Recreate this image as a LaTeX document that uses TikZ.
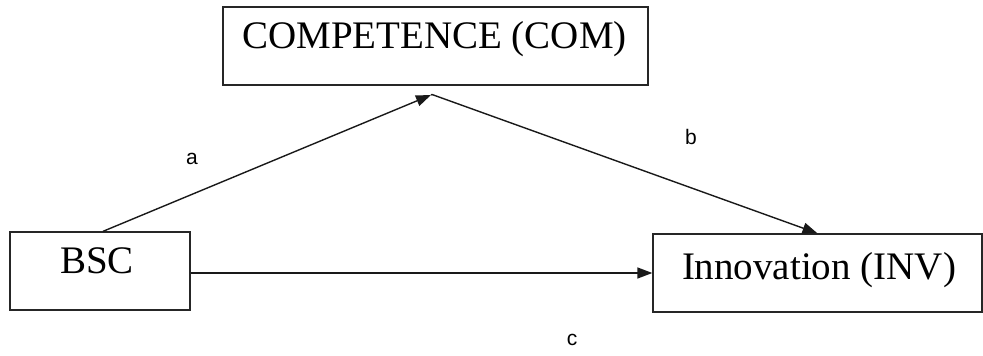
\documentclass[tikz,border=0pt]{standalone}
\usepackage{fontspec}
\setmainfont{Liberation Serif}
\newfontfamily\labelfont{Liberation Sans}
\usetikzlibrary{arrows.meta,calc}

\tikzset{
  varbox/.style={draw=black!85, line width=1.3pt, minimum width=#1, minimum height=78pt, inner sep=0pt},
  boxtext/.style={anchor=base, inner sep=0pt, font=\fontsize{39}{41}\selectfont},
  pathlabel/.style={inner sep=0pt, font=\labelfont\fontsize{21}{23}\selectfont},
  link/.style={line width=1.4pt, draw=black!90, -{Triangle[length=15pt,width=11pt]}}
}

\begin{document}
\begin{tikzpicture}[x=1pt,y=1pt]
  \useasboundingbox (0,0) rectangle (983,356);

  % variable boxes
  \node[varbox=425pt] (com) at (435.5,310) {};
  \node[varbox=180pt] (bsc) at (100,85) {};
  \node[varbox=329pt] (inv) at (817.5,83) {};

  % box captions
  \node[boxtext] (comtext) at (434.5,307.5) {COMPETENCE (COM)};
  \node[boxtext] (bsctext) at (97,82) {BSC};
  \node[boxtext] (invtext) at (819,76) {Innovation (INV)};

  % meeting point of the indirect path below the mediator
  \coordinate (apex) at (431,261);

  % paths
  \draw[link] ($(bsc.north)+(3,0)$) -- (apex);
  \draw[line width=1.4pt, draw=black!90] (apex) -- ++(1,0.5);
  \draw[link] ($(apex)+(1,0.5)$) -- (inv.north);
  \draw[link] (bsc.east |- 0,83) -- (inv.west |- 0,83);

  % path labels
  \node[pathlabel] (la) at (192,197) {a};
  \node[pathlabel] (lb) at (691,219) {b};
  \node[pathlabel] (lc) at (572,16) {c};
\end{tikzpicture}
\end{document}
